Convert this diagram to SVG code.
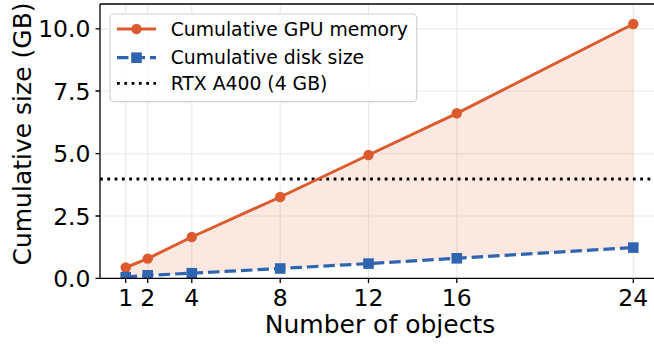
<svg xmlns="http://www.w3.org/2000/svg" width="654" height="346" viewBox="0 0 654 346">
<style>
text{font-family:"DejaVu Sans","Liberation Sans",sans-serif;fill:#000}
.tick{font-size:23.5px}
.lab{font-size:25px}
.leg{font-size:18.8px}
.grid{stroke:#ebebeb;stroke-width:1.2;fill:none}
.spine{stroke:#000;stroke-width:1.3;fill:none}
.tk{stroke:#000;stroke-width:1.3}
.gpu{stroke:#DC5A2E;stroke-width:3;fill:none;stroke-linejoin:round}
.disk{stroke:#2F65B0;stroke-width:3.2;fill:none;stroke-dasharray:11.5 5}
.dot{stroke:#000;stroke-width:2.8;stroke-dasharray:2.8 4.5;fill:none}
.cm{fill:#DC5A2E}
.sm{fill:#2F65B0}
</style>
<defs>
<clipPath id="ax"><rect x="100" y="4" width="556" height="274.3"/></clipPath>
<circle id="c" r="5.2" class="cm"/>
<rect id="s" x="-5.3" y="-5.3" width="10.6" height="10.6" class="sm"/>
</defs>
<rect width="654" height="346" fill="#fff"/>
<g id="grid">
<path class="grid" d="M125.7 4V278.3M147.7 4V278.3M191.8 4V278.3M280.2 4V278.3M368.5 4V278.3M456.8 4V278.3M633.3 4V278.3M100 216H656M100 153.7H656M100 91H656M100 28.9H656"/>
</g>
<g id="series" clip-path="url(#ax)">
<polygon fill="#DC5A2E" fill-opacity="0.14" points="125.7,267.5 147.7,258.6 191.8,237 280.2,197 368.5,155 456.8,113.3 633.3,24 633.3,247.6 456.8,258.3 368.5,263.6 280.2,268.5 191.8,273.2 147.7,275.3 125.7,277.2"/>
<line class="dot" x1="100" y1="179" x2="656" y2="179"/>
<polyline class="gpu" points="125.7,267.5 147.7,258.6 191.8,237 280.2,197 368.5,155 456.8,113.3 633.3,24"/>
<polyline class="disk" points="125.7,277.2 147.7,275.3 191.8,273.2 280.2,268.5 368.5,263.6 456.8,258.3 633.3,247.6"/>
<use href="#c" x="125.7" y="267.5"/><use href="#c" x="147.7" y="258.6"/><use href="#c" x="191.8" y="237"/><use href="#c" x="280.2" y="197"/><use href="#c" x="368.5" y="155"/><use href="#c" x="456.8" y="113.3"/><use href="#c" x="633.3" y="24"/>
<use href="#s" x="125.7" y="277.2"/><use href="#s" x="147.7" y="275.3"/><use href="#s" x="191.8" y="273.2"/><use href="#s" x="280.2" y="268.5"/><use href="#s" x="368.5" y="263.6"/><use href="#s" x="456.8" y="258.3"/><use href="#s" x="633.3" y="247.6"/>
</g>
<g id="axes">
<path class="spine" d="M100 4V278.3H656M100 4H656"/>
<path class="tk" d="M95.5 278.3H100M95.5 216H100M95.5 153.7H100M95.5 91H100M95.5 28.9H100M125.7 278.3V283M147.7 278.3V283M191.8 278.3V283M280.2 278.3V283M368.5 278.3V283M456.8 278.3V283M633.3 278.3V283"/>
<g class="tick" text-anchor="end">
<text x="90.5" y="286.8">0.0</text>
<text x="90.5" y="224.5">2.5</text>
<text x="90.5" y="162.2">5.0</text>
<text x="90.5" y="99.5">7.5</text>
<text x="90.5" y="37.4">10.0</text>
</g>
<g class="tick" text-anchor="middle">
<text x="125.7" y="306">1</text>
<text x="147.7" y="306">2</text>
<text x="191.8" y="306">4</text>
<text x="280.2" y="306">8</text>
<text x="368.5" y="306">12</text>
<text x="456.8" y="306">16</text>
<text x="633.3" y="306">24</text>
</g>
<text class="lab" x="380" y="333" text-anchor="middle">Number of objects</text>
<text class="lab" transform="translate(31 134) rotate(-90)" text-anchor="middle">Cumulative size (GB)</text>
</g>
<g id="legend">
<rect x="110" y="14" width="306.7" height="87.7" rx="4" fill="#fff" fill-opacity="0.8" stroke="#d0d0d0" stroke-width="1.2"/>
<line class="gpu" x1="117" y1="29" x2="156" y2="29"/><use href="#c" x="136.5" y="29"/>
<line class="disk" x1="117" y1="57.7" x2="156" y2="57.7" stroke-dasharray="11.5 5" stroke-dashoffset="0"/><use href="#s" x="136.5" y="57.7"/>
<line class="dot" x1="117" y1="83.3" x2="156" y2="83.3"/>
<text class="leg" x="170.7" y="36">Cumulative GPU memory</text>
<text class="leg" x="170.7" y="64">Cumulative disk size</text>
<text class="leg" x="170.7" y="90.3">RTX A400 (4 GB)</text>
</g>
</svg>
